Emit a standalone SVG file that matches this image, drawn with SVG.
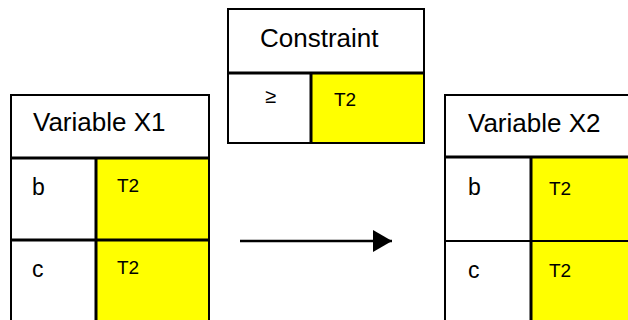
<svg xmlns="http://www.w3.org/2000/svg" width="628" height="320" viewBox="0 0 628 320">
  <style>
    .box { fill: #ffffff; stroke: #000000; stroke-width: 2; }
    .cell { fill: #ffff00; stroke: none; }
    .rule { stroke: #000000; stroke-width: 3; fill: none; }
    .thin { stroke: #000000; stroke-width: 2; fill: none; }
    .title { font-family: "Liberation Sans", Arial, sans-serif; font-size: 26px; fill: #000000; }
    .key { font-family: "Liberation Sans", Arial, sans-serif; font-size: 23px; fill: #000000; }
    .val { font-family: "Liberation Sans", Arial, sans-serif; font-size: 19px; fill: #000000; }
    .op { font-family: "Liberation Sans", Arial, sans-serif; font-size: 20px; fill: #000000; }
  </style>
  <defs>
    <marker id="arrowhead" markerWidth="20" markerHeight="22" refX="19" refY="11" orient="auto" markerUnits="userSpaceOnUse">
      <polygon points="0,0 19,11 0,22" fill="#000000"/>
    </marker>
  </defs>

  <rect width="628" height="320" fill="#ffffff"/>

  <!-- Variable X1 -->
  <g id="variable-x1">
    <rect class="box" x="11" y="95" width="198" height="240"/>
    <rect class="cell" x="97" y="159" width="111" height="170"/>
    <line class="rule" x1="11" y1="158" x2="209" y2="158"/>
    <line class="rule" x1="96" y1="158" x2="96" y2="320"/>
    <line class="rule" x1="11" y1="240" x2="209" y2="240"/>
    <text class="title" x="33" y="131">Variable X1</text>
    <text class="key" x="32" y="195">b</text>
    <text class="val" x="117" y="192">T2</text>
    <text class="key" x="32" y="277">c</text>
    <text class="val" x="117" y="274">T2</text>
  </g>

  <!-- Constraint -->
  <g id="constraint">
    <rect class="box" x="228" y="9" width="196" height="134"/>
    <rect class="cell" x="312" y="74" width="111" height="68"/>
    <line class="rule" x1="228" y1="73" x2="424" y2="73"/>
    <line class="rule" x1="311" y1="73" x2="311" y2="143"/>
    <text class="title" x="260" y="47">Constraint</text>
    <text class="op" x="265" y="103">≥</text>
    <text class="val" x="334" y="106">T2</text>
  </g>

  <!-- Variable X2 -->
  <g id="variable-x2">
    <rect class="box" x="445" y="95" width="200" height="240"/>
    <rect class="cell" x="532" y="158" width="100" height="170"/>
    <line class="rule" x1="445" y1="157" x2="628" y2="157"/>
    <line class="rule" x1="531" y1="157" x2="531" y2="320"/>
    <line class="thin" x1="445" y1="241" x2="628" y2="241"/>
    <text class="title" x="468" y="132">Variable X2</text>
    <text class="key" x="468" y="195">b</text>
    <text class="val" x="549" y="195">T2</text>
    <text class="key" x="468" y="278">c</text>
    <text class="val" x="549" y="277">T2</text>
  </g>

  <!-- Connectors -->
  <g id="connectors">
    <line x1="240" y1="241" x2="392" y2="241" stroke="#000000" stroke-width="2.5" marker-end="url(#arrowhead)"/>
  </g>
</svg>
